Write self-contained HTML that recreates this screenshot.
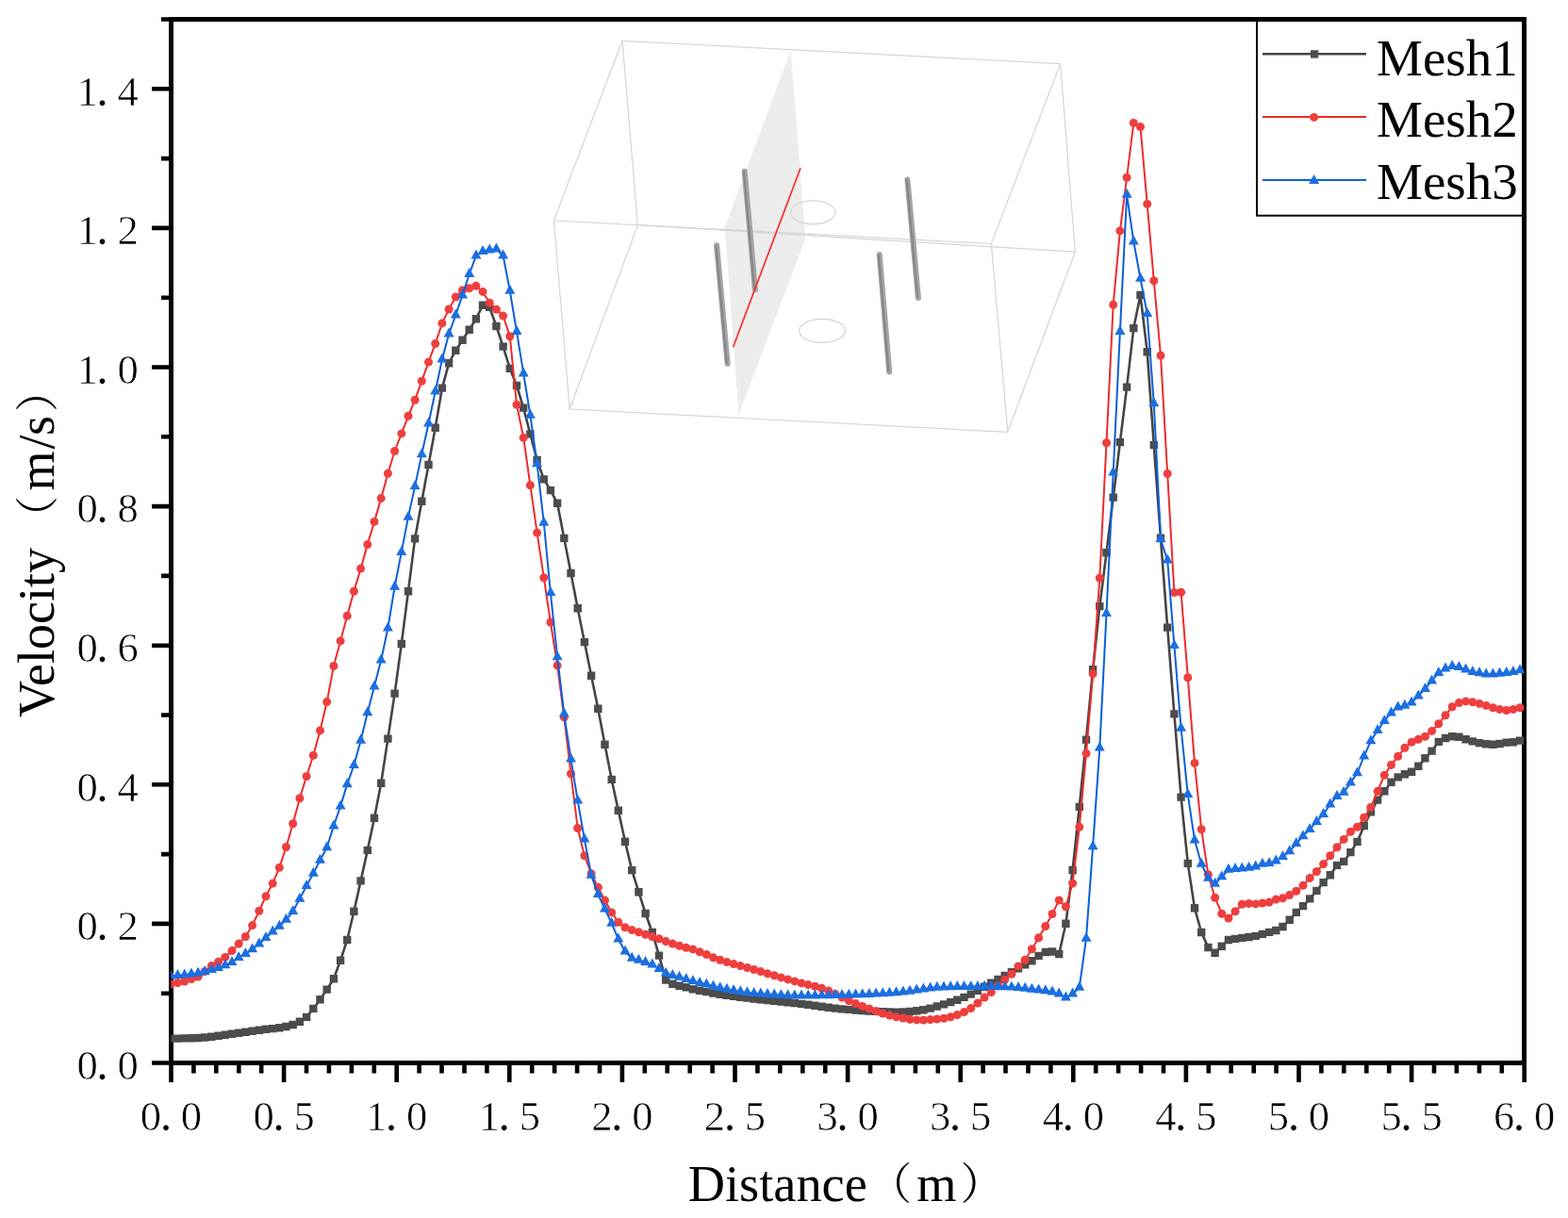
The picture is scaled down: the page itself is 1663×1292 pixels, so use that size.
<!DOCTYPE html>
<html><head><meta charset="utf-8"><title>Velocity vs Distance</title>
<style>
html,body{margin:0;padding:0;background:#fff;}
svg{display:block;}
.t{font-family:"Liberation Serif","Noto Serif CJK SC",serif;fill:#000;}
.n{stroke:#fff;stroke-width:0.6px;}
</style></head><body>
<svg width="1663" height="1292" viewBox="0 0 1663 1292">
<rect x="0" y="0" width="1663" height="1292" fill="#fff"/>

<g id="inset">
<polygon points="838.6,53.7 854.3,253.2 783.5,439.8 768.8,241" fill="#ececec"/>
<line x1="660" y1="43.3" x2="1124.6" y2="67.7" stroke="#d4d4d4" stroke-width="1.2"/>
<line x1="660" y1="43.3" x2="587.4" y2="234" stroke="#d4d4d4" stroke-width="1.2"/>
<line x1="1124.6" y1="67.7" x2="1051.3" y2="258.5" stroke="#d4d4d4" stroke-width="1.2"/>
<line x1="587.4" y1="234" x2="1051.3" y2="258.5" stroke="#d4d4d4" stroke-width="1.2"/>
<line x1="660" y1="43.3" x2="676.4" y2="238.6" stroke="#d4d4d4" stroke-width="1.2"/>
<line x1="1124.6" y1="67.7" x2="1140.3" y2="267.2" stroke="#d4d4d4" stroke-width="1.2"/>
<line x1="676.4" y1="238.6" x2="1140.3" y2="267.2" stroke="#d4d4d4" stroke-width="1.2"/>
<line x1="587.4" y1="234" x2="604.2" y2="434" stroke="#d4d4d4" stroke-width="1.2"/>
<line x1="1051.3" y1="258.5" x2="1068.8" y2="458.3" stroke="#d4d4d4" stroke-width="1.2"/>
<line x1="604.2" y1="434" x2="1068.8" y2="458.3" stroke="#d4d4d4" stroke-width="1.2"/>
<line x1="676.4" y1="238.6" x2="604.2" y2="434" stroke="#d4d4d4" stroke-width="1.2"/>
<line x1="1140.3" y1="267.2" x2="1068.8" y2="458.3" stroke="#d4d4d4" stroke-width="1.2"/>
<ellipse cx="862.3" cy="225.3" rx="23.7" ry="12.5" fill="none" stroke="#d4d4d4" stroke-width="1.2"/>
<ellipse cx="872" cy="350.9" rx="24.4" ry="12.5" fill="none" stroke="#d4d4d4" stroke-width="1.2"/>
<line x1="789.7" y1="181.7" x2="800.9" y2="307.3" stroke="#a4a4a4" stroke-width="6" stroke-linecap="round"/>
<line x1="788.9000000000001" y1="181.7" x2="800.1" y2="307.3" stroke="#868686" stroke-width="2.2"/>
<line x1="760.1" y1="260.2" x2="771.6" y2="385.8" stroke="#a4a4a4" stroke-width="6" stroke-linecap="round"/>
<line x1="759.3000000000001" y1="260.2" x2="770.8000000000001" y2="385.8" stroke="#868686" stroke-width="2.2"/>
<line x1="962.4" y1="190.4" x2="973.9" y2="316" stroke="#a4a4a4" stroke-width="6" stroke-linecap="round"/>
<line x1="961.6" y1="190.4" x2="973.1" y2="316" stroke="#868686" stroke-width="2.2"/>
<line x1="932.7" y1="270" x2="943.2" y2="394.5" stroke="#a4a4a4" stroke-width="6" stroke-linecap="round"/>
<line x1="931.9000000000001" y1="270" x2="942.4000000000001" y2="394.5" stroke="#868686" stroke-width="2.2"/>
<line x1="849" y1="178.2" x2="777.5" y2="368.3" stroke="#f23636" stroke-width="1.8"/>
</g>
<rect x="181.5" y="20.5" width="1435.0" height="1107.0" fill="none" stroke="#000" stroke-width="5"/>
<path d="M181.5,1127.5V1148M205.4,1127.5V1138.5M229.3,1127.5V1138.5M253.3,1127.5V1138.5M277.2,1127.5V1138.5M301.1,1127.5V1148M325.0,1127.5V1138.5M348.9,1127.5V1138.5M372.9,1127.5V1138.5M396.8,1127.5V1138.5M420.7,1127.5V1148M444.6,1127.5V1138.5M468.5,1127.5V1138.5M492.5,1127.5V1138.5M516.4,1127.5V1138.5M540.3,1127.5V1148M564.2,1127.5V1138.5M588.1,1127.5V1138.5M612.1,1127.5V1138.5M636.0,1127.5V1138.5M659.9,1127.5V1148M683.8,1127.5V1138.5M707.7,1127.5V1138.5M731.7,1127.5V1138.5M755.6,1127.5V1138.5M779.5,1127.5V1148M803.4,1127.5V1138.5M827.3,1127.5V1138.5M851.3,1127.5V1138.5M875.2,1127.5V1138.5M899.1,1127.5V1148M923.0,1127.5V1138.5M946.9,1127.5V1138.5M970.9,1127.5V1138.5M994.8,1127.5V1138.5M1018.7,1127.5V1148M1042.6,1127.5V1138.5M1066.5,1127.5V1138.5M1090.5,1127.5V1138.5M1114.4,1127.5V1138.5M1138.3,1127.5V1148M1162.2,1127.5V1138.5M1186.1,1127.5V1138.5M1210.1,1127.5V1138.5M1234.0,1127.5V1138.5M1257.9,1127.5V1148M1281.8,1127.5V1138.5M1305.7,1127.5V1138.5M1329.7,1127.5V1138.5M1353.6,1127.5V1138.5M1377.5,1127.5V1148M1401.4,1127.5V1138.5M1425.3,1127.5V1138.5M1449.3,1127.5V1138.5M1473.2,1127.5V1138.5M1497.1,1127.5V1148M1521.0,1127.5V1138.5M1544.9,1127.5V1138.5M1568.9,1127.5V1138.5M1592.8,1127.5V1138.5M1616.7,1127.5V1148M181.5,1127.5H161M181.5,1053.7H171M181.5,979.9H161M181.5,906.1H171M181.5,832.3H161M181.5,758.5H171M181.5,684.7H161M181.5,610.9H171M181.5,537.1H161M181.5,463.3H171M181.5,389.5H161M181.5,315.7H171M181.5,241.9H161M181.5,168.1H171M181.5,94.3H161M181.5,20.5H171" stroke="#000" stroke-width="4.6" fill="none"/>
<defs><clipPath id="pc"><rect x="181.5" y="20.5" width="1435" height="1107"/></clipPath></defs>
<g clip-path="url(#pc)"><g id="mesh1">
<polyline points="181.3,1101.6 188.5,1101.6 195.7,1101.4 202.9,1101.2 210.1,1101.0 217.2,1100.5 224.4,1099.8 231.6,1098.8 238.8,1097.7 246.0,1096.7 253.2,1095.7 260.4,1094.7 267.6,1093.7 274.8,1092.7 282.0,1091.8 289.2,1091.1 296.3,1090.2 303.5,1089.0 310.7,1087.0 317.9,1083.7 325.1,1078.9 332.3,1069.9 339.5,1060.2 346.7,1049.6 353.9,1038.2 361.1,1018.7 368.2,997.0 375.4,966.8 382.6,934.4 389.8,901.9 397.0,867.8 404.2,830.7 411.4,783.6 418.6,735.6 425.8,683.0 433.0,627.2 440.1,571.4 447.3,531.7 454.5,493.0 461.7,453.7 468.9,411.6 476.1,385.3 483.3,371.7 490.5,360.8 497.7,349.7 504.9,338.2 512.0,323.7 519.2,325.9 526.4,346.0 533.6,367.6 540.8,390.9 548.0,409.0 555.2,432.6 562.4,460.4 569.6,488.0 576.8,508.4 583.9,520.1 591.1,533.7 598.3,570.9 605.5,608.0 612.7,645.2 619.9,681.1 627.1,716.7 634.3,751.8 641.5,789.8 648.7,826.9 655.8,859.8 663.0,892.7 670.2,923.1 677.4,946.2 684.6,969.0 691.8,989.0 699.0,1013.6 706.2,1039.5 713.4,1043.7 720.5,1045.7 727.7,1047.3 734.9,1049.3 742.1,1050.7 749.3,1052.1 756.5,1053.5 763.7,1054.7 770.9,1055.8 778.1,1056.8 785.3,1057.7 792.5,1058.6 799.6,1059.5 806.8,1060.3 814.0,1061.1 821.2,1061.8 828.4,1062.6 835.6,1063.3 842.8,1064.0 850.0,1064.9 857.2,1065.8 864.4,1066.8 871.5,1067.8 878.7,1068.8 885.9,1069.6 893.1,1070.4 900.3,1070.9 907.5,1071.5 914.7,1072.0 921.9,1072.5 929.1,1072.9 936.2,1073.3 943.4,1073.5 950.6,1073.6 957.8,1073.5 965.0,1073.0 972.2,1072.2 979.4,1071.3 986.6,1069.6 993.8,1067.5 1001.0,1065.4 1008.2,1063.1 1015.3,1060.7 1022.5,1057.9 1029.7,1054.6 1036.9,1050.7 1044.1,1046.7 1051.3,1042.8 1058.5,1038.9 1065.7,1035.0 1072.9,1031.1 1080.0,1027.2 1087.2,1023.3 1094.4,1019.2 1101.6,1013.9 1108.8,1010.0 1116.0,1009.5 1123.2,1012.0 1130.4,979.7 1137.6,923.0 1144.8,855.9 1152.0,784.6 1159.1,710.3 1166.3,643.1 1173.5,586.2 1180.7,527.6 1187.9,469.1 1195.1,410.6 1202.3,348.1 1209.5,313.0 1216.7,373.2 1223.8,472.1 1231.0,570.8 1238.2,665.6 1245.4,757.4 1252.6,845.6 1259.8,915.9 1267.0,963.3 1274.2,989.0 1281.4,1005.0 1288.6,1010.7 1295.8,1003.8 1302.9,997.0 1310.1,995.9 1317.3,994.9 1324.5,994.0 1331.7,992.9 1338.9,990.9 1346.1,988.9 1353.3,987.0 1360.5,983.0 1367.7,975.8 1374.8,967.9 1382.0,961.1 1389.2,953.4 1396.4,944.9 1403.6,936.1 1410.8,928.2 1418.0,917.9 1425.2,913.9 1432.4,904.1 1439.5,892.9 1446.7,876.1 1453.9,861.3 1461.1,848.6 1468.3,839.2 1475.5,829.8 1482.7,824.4 1489.9,821.3 1497.1,818.8 1504.3,812.8 1511.5,804.3 1518.6,796.6 1525.8,786.9 1533.0,783.0 1540.2,781.3 1547.4,781.8 1554.6,784.2 1561.8,786.4 1569.0,788.1 1576.2,789.3 1583.4,789.8 1590.5,789.0 1597.7,787.6 1604.9,787.3 1612.1,785.6" fill="none" stroke="#444" stroke-width="2.6" stroke-linejoin="round"/>
<path fill="#4c4c4c" d="M177.1,1097.4h8.4v8.4h-8.4ZM184.3,1097.4h8.4v8.4h-8.4ZM191.5,1097.2h8.4v8.4h-8.4ZM198.7,1097.0h8.4v8.4h-8.4ZM205.9,1096.8h8.4v8.4h-8.4ZM213.1,1096.3h8.4v8.4h-8.4ZM220.2,1095.6h8.4v8.4h-8.4ZM227.4,1094.6h8.4v8.4h-8.4ZM234.6,1093.5h8.4v8.4h-8.4ZM241.8,1092.5h8.4v8.4h-8.4ZM249.0,1091.5h8.4v8.4h-8.4ZM256.2,1090.5h8.4v8.4h-8.4ZM263.4,1089.5h8.4v8.4h-8.4ZM270.6,1088.5h8.4v8.4h-8.4ZM277.8,1087.6h8.4v8.4h-8.4ZM285.0,1086.9h8.4v8.4h-8.4ZM292.1,1086.0h8.4v8.4h-8.4ZM299.3,1084.8h8.4v8.4h-8.4ZM306.5,1082.8h8.4v8.4h-8.4ZM313.7,1079.5h8.4v8.4h-8.4ZM320.9,1074.7h8.4v8.4h-8.4ZM328.1,1065.7h8.4v8.4h-8.4ZM335.3,1056.0h8.4v8.4h-8.4ZM342.5,1045.4h8.4v8.4h-8.4ZM349.7,1034.0h8.4v8.4h-8.4ZM356.9,1014.5h8.4v8.4h-8.4ZM364.0,992.8h8.4v8.4h-8.4ZM371.2,962.6h8.4v8.4h-8.4ZM378.4,930.2h8.4v8.4h-8.4ZM385.6,897.7h8.4v8.4h-8.4ZM392.8,863.6h8.4v8.4h-8.4ZM400.0,826.5h8.4v8.4h-8.4ZM407.2,779.4h8.4v8.4h-8.4ZM414.4,731.4h8.4v8.4h-8.4ZM421.6,678.8h8.4v8.4h-8.4ZM428.8,623.0h8.4v8.4h-8.4ZM435.9,567.2h8.4v8.4h-8.4ZM443.1,527.5h8.4v8.4h-8.4ZM450.3,488.8h8.4v8.4h-8.4ZM457.5,449.5h8.4v8.4h-8.4ZM464.7,407.4h8.4v8.4h-8.4ZM471.9,381.1h8.4v8.4h-8.4ZM479.1,367.5h8.4v8.4h-8.4ZM486.3,356.6h8.4v8.4h-8.4ZM493.5,345.5h8.4v8.4h-8.4ZM500.7,334.0h8.4v8.4h-8.4ZM507.8,319.5h8.4v8.4h-8.4ZM515.0,321.7h8.4v8.4h-8.4ZM522.2,341.8h8.4v8.4h-8.4ZM529.4,363.4h8.4v8.4h-8.4ZM536.6,386.7h8.4v8.4h-8.4ZM543.8,404.8h8.4v8.4h-8.4ZM551.0,428.4h8.4v8.4h-8.4ZM558.2,456.2h8.4v8.4h-8.4ZM565.4,483.8h8.4v8.4h-8.4ZM572.5,504.2h8.4v8.4h-8.4ZM579.7,515.9h8.4v8.4h-8.4ZM586.9,529.5h8.4v8.4h-8.4ZM594.1,566.7h8.4v8.4h-8.4ZM601.3,603.8h8.4v8.4h-8.4ZM608.5,641.0h8.4v8.4h-8.4ZM615.7,676.9h8.4v8.4h-8.4ZM622.9,712.5h8.4v8.4h-8.4ZM630.1,747.6h8.4v8.4h-8.4ZM637.3,785.6h8.4v8.4h-8.4ZM644.5,822.7h8.4v8.4h-8.4ZM651.6,855.6h8.4v8.4h-8.4ZM658.8,888.5h8.4v8.4h-8.4ZM666.0,918.9h8.4v8.4h-8.4ZM673.2,942.0h8.4v8.4h-8.4ZM680.4,964.8h8.4v8.4h-8.4ZM687.6,984.8h8.4v8.4h-8.4ZM694.8,1009.4h8.4v8.4h-8.4ZM702.0,1035.3h8.4v8.4h-8.4ZM709.2,1039.5h8.4v8.4h-8.4ZM716.3,1041.5h8.4v8.4h-8.4ZM723.5,1043.1h8.4v8.4h-8.4ZM730.7,1045.1h8.4v8.4h-8.4ZM737.9,1046.5h8.4v8.4h-8.4ZM745.1,1047.9h8.4v8.4h-8.4ZM752.3,1049.3h8.4v8.4h-8.4ZM759.5,1050.5h8.4v8.4h-8.4ZM766.7,1051.6h8.4v8.4h-8.4ZM773.9,1052.6h8.4v8.4h-8.4ZM781.1,1053.5h8.4v8.4h-8.4ZM788.2,1054.4h8.4v8.4h-8.4ZM795.4,1055.3h8.4v8.4h-8.4ZM802.6,1056.1h8.4v8.4h-8.4ZM809.8,1056.9h8.4v8.4h-8.4ZM817.0,1057.6h8.4v8.4h-8.4ZM824.2,1058.4h8.4v8.4h-8.4ZM831.4,1059.1h8.4v8.4h-8.4ZM838.6,1059.8h8.4v8.4h-8.4ZM845.8,1060.7h8.4v8.4h-8.4ZM853.0,1061.6h8.4v8.4h-8.4ZM860.2,1062.6h8.4v8.4h-8.4ZM867.3,1063.6h8.4v8.4h-8.4ZM874.5,1064.6h8.4v8.4h-8.4ZM881.7,1065.4h8.4v8.4h-8.4ZM888.9,1066.2h8.4v8.4h-8.4ZM896.1,1066.7h8.4v8.4h-8.4ZM903.3,1067.3h8.4v8.4h-8.4ZM910.5,1067.8h8.4v8.4h-8.4ZM917.7,1068.3h8.4v8.4h-8.4ZM924.9,1068.7h8.4v8.4h-8.4ZM932.0,1069.1h8.4v8.4h-8.4ZM939.2,1069.3h8.4v8.4h-8.4ZM946.4,1069.4h8.4v8.4h-8.4ZM953.6,1069.3h8.4v8.4h-8.4ZM960.8,1068.8h8.4v8.4h-8.4ZM968.0,1068.0h8.4v8.4h-8.4ZM975.2,1067.1h8.4v8.4h-8.4ZM982.4,1065.4h8.4v8.4h-8.4ZM989.6,1063.3h8.4v8.4h-8.4ZM996.8,1061.2h8.4v8.4h-8.4ZM1004.0,1058.9h8.4v8.4h-8.4ZM1011.1,1056.5h8.4v8.4h-8.4ZM1018.3,1053.7h8.4v8.4h-8.4ZM1025.5,1050.4h8.4v8.4h-8.4ZM1032.7,1046.5h8.4v8.4h-8.4ZM1039.9,1042.5h8.4v8.4h-8.4ZM1047.1,1038.6h8.4v8.4h-8.4ZM1054.3,1034.7h8.4v8.4h-8.4ZM1061.5,1030.8h8.4v8.4h-8.4ZM1068.7,1026.9h8.4v8.4h-8.4ZM1075.8,1023.0h8.4v8.4h-8.4ZM1083.0,1019.1h8.4v8.4h-8.4ZM1090.2,1015.0h8.4v8.4h-8.4ZM1097.4,1009.7h8.4v8.4h-8.4ZM1104.6,1005.8h8.4v8.4h-8.4ZM1111.8,1005.3h8.4v8.4h-8.4ZM1119.0,1007.8h8.4v8.4h-8.4ZM1126.2,975.5h8.4v8.4h-8.4ZM1133.4,918.8h8.4v8.4h-8.4ZM1140.6,851.7h8.4v8.4h-8.4ZM1147.8,780.4h8.4v8.4h-8.4ZM1154.9,706.1h8.4v8.4h-8.4ZM1162.1,638.9h8.4v8.4h-8.4ZM1169.3,582.0h8.4v8.4h-8.4ZM1176.5,523.4h8.4v8.4h-8.4ZM1183.7,464.9h8.4v8.4h-8.4ZM1190.9,406.4h8.4v8.4h-8.4ZM1198.1,343.9h8.4v8.4h-8.4ZM1205.3,308.8h8.4v8.4h-8.4ZM1212.5,369.0h8.4v8.4h-8.4ZM1219.6,467.9h8.4v8.4h-8.4ZM1226.8,566.6h8.4v8.4h-8.4ZM1234.0,661.4h8.4v8.4h-8.4ZM1241.2,753.2h8.4v8.4h-8.4ZM1248.4,841.4h8.4v8.4h-8.4ZM1255.6,911.7h8.4v8.4h-8.4ZM1262.8,959.1h8.4v8.4h-8.4ZM1270.0,984.8h8.4v8.4h-8.4ZM1277.2,1000.8h8.4v8.4h-8.4ZM1284.4,1006.5h8.4v8.4h-8.4ZM1291.5,999.6h8.4v8.4h-8.4ZM1298.7,992.8h8.4v8.4h-8.4ZM1305.9,991.7h8.4v8.4h-8.4ZM1313.1,990.7h8.4v8.4h-8.4ZM1320.3,989.8h8.4v8.4h-8.4ZM1327.5,988.7h8.4v8.4h-8.4ZM1334.7,986.7h8.4v8.4h-8.4ZM1341.9,984.7h8.4v8.4h-8.4ZM1349.1,982.8h8.4v8.4h-8.4ZM1356.3,978.8h8.4v8.4h-8.4ZM1363.5,971.6h8.4v8.4h-8.4ZM1370.6,963.7h8.4v8.4h-8.4ZM1377.8,956.9h8.4v8.4h-8.4ZM1385.0,949.2h8.4v8.4h-8.4ZM1392.2,940.7h8.4v8.4h-8.4ZM1399.4,931.9h8.4v8.4h-8.4ZM1406.6,924.0h8.4v8.4h-8.4ZM1413.8,913.7h8.4v8.4h-8.4ZM1421.0,909.7h8.4v8.4h-8.4ZM1428.2,899.9h8.4v8.4h-8.4ZM1435.3,888.7h8.4v8.4h-8.4ZM1442.5,871.9h8.4v8.4h-8.4ZM1449.7,857.1h8.4v8.4h-8.4ZM1456.9,844.4h8.4v8.4h-8.4ZM1464.1,835.0h8.4v8.4h-8.4ZM1471.3,825.6h8.4v8.4h-8.4ZM1478.5,820.2h8.4v8.4h-8.4ZM1485.7,817.1h8.4v8.4h-8.4ZM1492.9,814.6h8.4v8.4h-8.4ZM1500.1,808.6h8.4v8.4h-8.4ZM1507.2,800.1h8.4v8.4h-8.4ZM1514.4,792.4h8.4v8.4h-8.4ZM1521.6,782.7h8.4v8.4h-8.4ZM1528.8,778.8h8.4v8.4h-8.4ZM1536.0,777.1h8.4v8.4h-8.4ZM1543.2,777.6h8.4v8.4h-8.4ZM1550.4,780.0h8.4v8.4h-8.4ZM1557.6,782.2h8.4v8.4h-8.4ZM1564.8,783.9h8.4v8.4h-8.4ZM1572.0,785.1h8.4v8.4h-8.4ZM1579.2,785.6h8.4v8.4h-8.4ZM1586.3,784.8h8.4v8.4h-8.4ZM1593.5,783.4h8.4v8.4h-8.4ZM1600.7,783.1h8.4v8.4h-8.4ZM1607.9,781.4h8.4v8.4h-8.4Z"/>
</g>
<g id="mesh2">
<polyline points="181.3,1044.0 188.5,1042.5 195.7,1041.0 202.9,1038.5 210.1,1036.0 217.2,1030.5 224.4,1024.4 231.6,1020.3 238.8,1015.4 246.0,1008.6 253.2,1001.1 260.4,993.5 267.6,981.6 274.8,966.3 282.0,950.7 289.2,937.1 296.3,920.3 303.5,898.5 310.7,873.7 317.9,846.7 325.1,823.5 332.3,801.2 339.5,774.9 346.7,744.6 353.9,706.5 361.1,679.9 368.2,653.3 375.4,627.2 382.6,603.1 389.8,577.6 397.0,553.4 404.2,528.6 411.4,502.3 418.6,478.5 425.8,459.9 433.0,441.3 440.1,424.3 447.3,404.2 454.5,384.1 461.7,364.6 468.9,342.9 476.1,328.0 483.3,315.0 490.5,307.9 497.7,305.7 504.9,303.3 512.0,309.4 519.2,321.2 526.4,328.3 533.6,335.1 540.8,356.8 548.0,429.2 555.2,464.2 562.4,514.7 569.6,565.1 576.8,612.7 583.9,660.0 591.1,705.9 598.3,760.8 605.5,820.8 612.7,878.5 619.9,907.7 627.1,926.7 634.3,941.2 641.5,955.1 648.7,967.9 655.8,978.2 663.0,983.8 670.2,986.6 677.4,988.8 684.6,991.3 691.8,993.6 699.0,995.8 706.2,998.6 713.4,1001.1 720.5,1003.3 727.7,1005.3 734.9,1006.9 742.1,1009.7 749.3,1012.5 756.5,1015.8 763.7,1018.3 770.9,1020.6 778.1,1022.6 785.3,1024.6 792.5,1026.5 799.6,1028.5 806.8,1030.6 814.0,1032.7 821.2,1034.8 828.4,1036.9 835.6,1038.9 842.8,1040.9 850.0,1042.9 857.2,1044.6 864.4,1046.3 871.5,1048.3 878.7,1051.0 885.9,1054.4 893.1,1058.0 900.3,1061.5 907.5,1064.6 914.7,1067.4 921.9,1070.1 929.1,1072.7 936.2,1075.1 943.4,1077.1 950.6,1078.7 957.8,1080.0 965.0,1081.2 972.2,1081.9 979.4,1082.0 986.6,1081.6 993.8,1081.0 1001.0,1080.2 1008.2,1078.8 1015.3,1076.5 1022.5,1073.6 1029.7,1069.6 1036.9,1064.0 1044.1,1058.0 1051.3,1052.5 1058.5,1046.0 1065.7,1039.3 1072.9,1033.3 1080.0,1024.9 1087.2,1018.3 1094.4,1006.8 1101.6,994.8 1108.8,982.5 1116.0,969.5 1123.2,954.9 1130.4,961.7 1137.6,937.0 1144.8,877.2 1152.0,799.2 1159.1,714.7 1166.3,613.2 1173.5,469.8 1180.7,323.3 1187.9,244.9 1195.1,188.3 1202.3,130.5 1209.5,134.6 1216.7,216.4 1223.8,297.8 1231.0,377.1 1238.2,502.5 1245.4,628.5 1252.6,628.3 1259.8,718.7 1267.0,809.4 1274.2,879.7 1281.4,927.7 1288.6,952.2 1295.8,969.2 1302.9,974.1 1310.1,966.7 1317.3,959.3 1324.5,958.4 1331.7,958.9 1338.9,958.0 1346.1,957.1 1353.3,954.1 1360.5,952.8 1367.7,949.5 1374.8,945.3 1382.0,939.3 1389.2,931.4 1396.4,924.5 1403.6,916.6 1410.8,907.8 1418.0,898.7 1425.2,890.4 1432.4,882.2 1439.5,877.3 1446.7,867.3 1453.9,856.2 1461.1,839.2 1468.3,822.2 1475.5,811.4 1482.7,802.3 1489.9,793.2 1497.1,787.3 1504.3,784.2 1511.5,781.3 1518.6,775.4 1525.8,767.7 1533.0,758.7 1540.2,749.8 1547.4,745.6 1554.6,743.9 1561.8,744.7 1569.0,746.4 1576.2,748.4 1583.4,750.7 1590.5,752.4 1597.7,753.6 1604.9,752.4 1612.1,750.7" fill="none" stroke="#ee2b2b" stroke-width="2" stroke-linejoin="round"/>
<g fill="#ef3e3e"><circle cx="181.3" cy="1044.0" r="4.5"/><circle cx="188.5" cy="1042.5" r="4.5"/><circle cx="195.7" cy="1041.0" r="4.5"/><circle cx="202.9" cy="1038.5" r="4.5"/><circle cx="210.1" cy="1036.0" r="4.5"/><circle cx="217.2" cy="1030.5" r="4.5"/><circle cx="224.4" cy="1024.4" r="4.5"/><circle cx="231.6" cy="1020.3" r="4.5"/><circle cx="238.8" cy="1015.4" r="4.5"/><circle cx="246.0" cy="1008.6" r="4.5"/><circle cx="253.2" cy="1001.1" r="4.5"/><circle cx="260.4" cy="993.5" r="4.5"/><circle cx="267.6" cy="981.6" r="4.5"/><circle cx="274.8" cy="966.3" r="4.5"/><circle cx="282.0" cy="950.7" r="4.5"/><circle cx="289.2" cy="937.1" r="4.5"/><circle cx="296.3" cy="920.3" r="4.5"/><circle cx="303.5" cy="898.5" r="4.5"/><circle cx="310.7" cy="873.7" r="4.5"/><circle cx="317.9" cy="846.7" r="4.5"/><circle cx="325.1" cy="823.5" r="4.5"/><circle cx="332.3" cy="801.2" r="4.5"/><circle cx="339.5" cy="774.9" r="4.5"/><circle cx="346.7" cy="744.6" r="4.5"/><circle cx="353.9" cy="706.5" r="4.5"/><circle cx="361.1" cy="679.9" r="4.5"/><circle cx="368.2" cy="653.3" r="4.5"/><circle cx="375.4" cy="627.2" r="4.5"/><circle cx="382.6" cy="603.1" r="4.5"/><circle cx="389.8" cy="577.6" r="4.5"/><circle cx="397.0" cy="553.4" r="4.5"/><circle cx="404.2" cy="528.6" r="4.5"/><circle cx="411.4" cy="502.3" r="4.5"/><circle cx="418.6" cy="478.5" r="4.5"/><circle cx="425.8" cy="459.9" r="4.5"/><circle cx="433.0" cy="441.3" r="4.5"/><circle cx="440.1" cy="424.3" r="4.5"/><circle cx="447.3" cy="404.2" r="4.5"/><circle cx="454.5" cy="384.1" r="4.5"/><circle cx="461.7" cy="364.6" r="4.5"/><circle cx="468.9" cy="342.9" r="4.5"/><circle cx="476.1" cy="328.0" r="4.5"/><circle cx="483.3" cy="315.0" r="4.5"/><circle cx="490.5" cy="307.9" r="4.5"/><circle cx="497.7" cy="305.7" r="4.5"/><circle cx="504.9" cy="303.3" r="4.5"/><circle cx="512.0" cy="309.4" r="4.5"/><circle cx="519.2" cy="321.2" r="4.5"/><circle cx="526.4" cy="328.3" r="4.5"/><circle cx="533.6" cy="335.1" r="4.5"/><circle cx="540.8" cy="356.8" r="4.5"/><circle cx="548.0" cy="429.2" r="4.5"/><circle cx="555.2" cy="464.2" r="4.5"/><circle cx="562.4" cy="514.7" r="4.5"/><circle cx="569.6" cy="565.1" r="4.5"/><circle cx="576.8" cy="612.7" r="4.5"/><circle cx="583.9" cy="660.0" r="4.5"/><circle cx="591.1" cy="705.9" r="4.5"/><circle cx="598.3" cy="760.8" r="4.5"/><circle cx="605.5" cy="820.8" r="4.5"/><circle cx="612.7" cy="878.5" r="4.5"/><circle cx="619.9" cy="907.7" r="4.5"/><circle cx="627.1" cy="926.7" r="4.5"/><circle cx="634.3" cy="941.2" r="4.5"/><circle cx="641.5" cy="955.1" r="4.5"/><circle cx="648.7" cy="967.9" r="4.5"/><circle cx="655.8" cy="978.2" r="4.5"/><circle cx="663.0" cy="983.8" r="4.5"/><circle cx="670.2" cy="986.6" r="4.5"/><circle cx="677.4" cy="988.8" r="4.5"/><circle cx="684.6" cy="991.3" r="4.5"/><circle cx="691.8" cy="993.6" r="4.5"/><circle cx="699.0" cy="995.8" r="4.5"/><circle cx="706.2" cy="998.6" r="4.5"/><circle cx="713.4" cy="1001.1" r="4.5"/><circle cx="720.5" cy="1003.3" r="4.5"/><circle cx="727.7" cy="1005.3" r="4.5"/><circle cx="734.9" cy="1006.9" r="4.5"/><circle cx="742.1" cy="1009.7" r="4.5"/><circle cx="749.3" cy="1012.5" r="4.5"/><circle cx="756.5" cy="1015.8" r="4.5"/><circle cx="763.7" cy="1018.3" r="4.5"/><circle cx="770.9" cy="1020.6" r="4.5"/><circle cx="778.1" cy="1022.6" r="4.5"/><circle cx="785.3" cy="1024.6" r="4.5"/><circle cx="792.5" cy="1026.5" r="4.5"/><circle cx="799.6" cy="1028.5" r="4.5"/><circle cx="806.8" cy="1030.6" r="4.5"/><circle cx="814.0" cy="1032.7" r="4.5"/><circle cx="821.2" cy="1034.8" r="4.5"/><circle cx="828.4" cy="1036.9" r="4.5"/><circle cx="835.6" cy="1038.9" r="4.5"/><circle cx="842.8" cy="1040.9" r="4.5"/><circle cx="850.0" cy="1042.9" r="4.5"/><circle cx="857.2" cy="1044.6" r="4.5"/><circle cx="864.4" cy="1046.3" r="4.5"/><circle cx="871.5" cy="1048.3" r="4.5"/><circle cx="878.7" cy="1051.0" r="4.5"/><circle cx="885.9" cy="1054.4" r="4.5"/><circle cx="893.1" cy="1058.0" r="4.5"/><circle cx="900.3" cy="1061.5" r="4.5"/><circle cx="907.5" cy="1064.6" r="4.5"/><circle cx="914.7" cy="1067.4" r="4.5"/><circle cx="921.9" cy="1070.1" r="4.5"/><circle cx="929.1" cy="1072.7" r="4.5"/><circle cx="936.2" cy="1075.1" r="4.5"/><circle cx="943.4" cy="1077.1" r="4.5"/><circle cx="950.6" cy="1078.7" r="4.5"/><circle cx="957.8" cy="1080.0" r="4.5"/><circle cx="965.0" cy="1081.2" r="4.5"/><circle cx="972.2" cy="1081.9" r="4.5"/><circle cx="979.4" cy="1082.0" r="4.5"/><circle cx="986.6" cy="1081.6" r="4.5"/><circle cx="993.8" cy="1081.0" r="4.5"/><circle cx="1001.0" cy="1080.2" r="4.5"/><circle cx="1008.2" cy="1078.8" r="4.5"/><circle cx="1015.3" cy="1076.5" r="4.5"/><circle cx="1022.5" cy="1073.6" r="4.5"/><circle cx="1029.7" cy="1069.6" r="4.5"/><circle cx="1036.9" cy="1064.0" r="4.5"/><circle cx="1044.1" cy="1058.0" r="4.5"/><circle cx="1051.3" cy="1052.5" r="4.5"/><circle cx="1058.5" cy="1046.0" r="4.5"/><circle cx="1065.7" cy="1039.3" r="4.5"/><circle cx="1072.9" cy="1033.3" r="4.5"/><circle cx="1080.0" cy="1024.9" r="4.5"/><circle cx="1087.2" cy="1018.3" r="4.5"/><circle cx="1094.4" cy="1006.8" r="4.5"/><circle cx="1101.6" cy="994.8" r="4.5"/><circle cx="1108.8" cy="982.5" r="4.5"/><circle cx="1116.0" cy="969.5" r="4.5"/><circle cx="1123.2" cy="954.9" r="4.5"/><circle cx="1130.4" cy="961.7" r="4.5"/><circle cx="1137.6" cy="937.0" r="4.5"/><circle cx="1144.8" cy="877.2" r="4.5"/><circle cx="1152.0" cy="799.2" r="4.5"/><circle cx="1159.1" cy="714.7" r="4.5"/><circle cx="1166.3" cy="613.2" r="4.5"/><circle cx="1173.5" cy="469.8" r="4.5"/><circle cx="1180.7" cy="323.3" r="4.5"/><circle cx="1187.9" cy="244.9" r="4.5"/><circle cx="1195.1" cy="188.3" r="4.5"/><circle cx="1202.3" cy="130.5" r="4.5"/><circle cx="1209.5" cy="134.6" r="4.5"/><circle cx="1216.7" cy="216.4" r="4.5"/><circle cx="1223.8" cy="297.8" r="4.5"/><circle cx="1231.0" cy="377.1" r="4.5"/><circle cx="1238.2" cy="502.5" r="4.5"/><circle cx="1245.4" cy="628.5" r="4.5"/><circle cx="1252.6" cy="628.3" r="4.5"/><circle cx="1259.8" cy="718.7" r="4.5"/><circle cx="1267.0" cy="809.4" r="4.5"/><circle cx="1274.2" cy="879.7" r="4.5"/><circle cx="1281.4" cy="927.7" r="4.5"/><circle cx="1288.6" cy="952.2" r="4.5"/><circle cx="1295.8" cy="969.2" r="4.5"/><circle cx="1302.9" cy="974.1" r="4.5"/><circle cx="1310.1" cy="966.7" r="4.5"/><circle cx="1317.3" cy="959.3" r="4.5"/><circle cx="1324.5" cy="958.4" r="4.5"/><circle cx="1331.7" cy="958.9" r="4.5"/><circle cx="1338.9" cy="958.0" r="4.5"/><circle cx="1346.1" cy="957.1" r="4.5"/><circle cx="1353.3" cy="954.1" r="4.5"/><circle cx="1360.5" cy="952.8" r="4.5"/><circle cx="1367.7" cy="949.5" r="4.5"/><circle cx="1374.8" cy="945.3" r="4.5"/><circle cx="1382.0" cy="939.3" r="4.5"/><circle cx="1389.2" cy="931.4" r="4.5"/><circle cx="1396.4" cy="924.5" r="4.5"/><circle cx="1403.6" cy="916.6" r="4.5"/><circle cx="1410.8" cy="907.8" r="4.5"/><circle cx="1418.0" cy="898.7" r="4.5"/><circle cx="1425.2" cy="890.4" r="4.5"/><circle cx="1432.4" cy="882.2" r="4.5"/><circle cx="1439.5" cy="877.3" r="4.5"/><circle cx="1446.7" cy="867.3" r="4.5"/><circle cx="1453.9" cy="856.2" r="4.5"/><circle cx="1461.1" cy="839.2" r="4.5"/><circle cx="1468.3" cy="822.2" r="4.5"/><circle cx="1475.5" cy="811.4" r="4.5"/><circle cx="1482.7" cy="802.3" r="4.5"/><circle cx="1489.9" cy="793.2" r="4.5"/><circle cx="1497.1" cy="787.3" r="4.5"/><circle cx="1504.3" cy="784.2" r="4.5"/><circle cx="1511.5" cy="781.3" r="4.5"/><circle cx="1518.6" cy="775.4" r="4.5"/><circle cx="1525.8" cy="767.7" r="4.5"/><circle cx="1533.0" cy="758.7" r="4.5"/><circle cx="1540.2" cy="749.8" r="4.5"/><circle cx="1547.4" cy="745.6" r="4.5"/><circle cx="1554.6" cy="743.9" r="4.5"/><circle cx="1561.8" cy="744.7" r="4.5"/><circle cx="1569.0" cy="746.4" r="4.5"/><circle cx="1576.2" cy="748.4" r="4.5"/><circle cx="1583.4" cy="750.7" r="4.5"/><circle cx="1590.5" cy="752.4" r="4.5"/><circle cx="1597.7" cy="753.6" r="4.5"/><circle cx="1604.9" cy="752.4" r="4.5"/><circle cx="1612.1" cy="750.7" r="4.5"/></g>
</g>
<g id="mesh3">
<polyline points="181.3,1035.2 188.5,1034.7 195.7,1034.2 202.9,1033.2 210.1,1032.2 217.2,1030.7 224.4,1028.7 231.6,1026.7 238.8,1024.0 246.0,1020.7 253.2,1015.8 260.4,1011.8 267.6,1006.9 274.8,1001.2 282.0,994.7 289.2,988.2 296.3,982.5 303.5,975.5 310.7,966.8 317.9,953.4 325.1,939.8 332.3,926.4 339.5,912.5 346.7,899.0 353.9,876.1 361.1,855.1 368.2,831.9 375.4,811.7 382.6,785.4 389.8,756.0 397.0,728.1 404.2,700.2 411.4,666.2 418.6,622.5 425.8,585.6 433.0,548.4 440.1,515.9 447.3,481.9 454.5,449.3 461.7,415.3 468.9,381.2 476.1,354.3 483.3,334.2 490.5,313.1 497.7,290.8 504.9,271.3 512.0,266.7 519.2,265.1 526.4,264.2 533.6,271.3 540.8,308.5 548.0,351.8 555.2,396.1 562.4,440.5 569.6,491.9 576.8,554.5 583.9,628.8 591.1,696.9 598.3,757.3 605.5,805.3 612.7,849.3 619.9,890.3 627.1,928.4 634.3,948.8 641.5,964.1 648.7,979.4 655.8,996.2 663.0,1009.2 670.2,1016.5 677.4,1018.4 684.6,1020.7 691.8,1023.2 699.0,1027.6 706.2,1032.4 713.4,1034.6 720.5,1036.5 727.7,1038.8 734.9,1040.7 742.1,1042.7 749.3,1044.3 756.5,1046.3 763.7,1047.9 770.9,1049.4 778.1,1050.8 785.3,1052.0 792.5,1053.0 799.6,1053.7 806.8,1054.3 814.0,1054.8 821.2,1055.3 828.4,1055.7 835.6,1056.0 842.8,1056.2 850.0,1056.2 857.2,1056.2 864.4,1056.1 871.5,1056.0 878.7,1055.9 885.9,1055.7 893.1,1055.6 900.3,1055.4 907.5,1055.2 914.7,1054.9 921.9,1054.6 929.1,1054.2 936.2,1053.8 943.4,1053.4 950.6,1052.9 957.8,1052.3 965.0,1051.3 972.2,1050.2 979.4,1049.1 986.6,1048.1 993.8,1047.4 1001.0,1047.1 1008.2,1046.9 1015.3,1046.8 1022.5,1046.7 1029.7,1046.6 1036.9,1046.5 1044.1,1046.5 1051.3,1046.5 1058.5,1046.7 1065.7,1046.9 1072.9,1047.2 1080.0,1047.8 1087.2,1048.5 1094.4,1049.3 1101.6,1050.1 1108.8,1050.9 1116.0,1052.1 1123.2,1054.3 1130.4,1058.3 1137.6,1054.3 1144.8,1047.5 1152.0,995.4 1159.1,897.9 1166.3,793.3 1173.5,650.8 1180.7,501.2 1187.9,351.6 1195.1,206.4 1202.3,256.3 1209.5,295.4 1216.7,332.8 1223.8,428.0 1231.0,572.0 1238.2,594.2 1245.4,684.7 1252.6,772.5 1259.8,842.8 1267.0,891.1 1274.2,916.5 1281.4,931.5 1288.6,937.5 1295.8,930.0 1302.9,922.5 1310.1,921.7 1317.3,921.1 1324.5,920.4 1331.7,919.1 1338.9,916.5 1346.1,915.8 1353.3,913.2 1360.5,908.6 1367.7,903.0 1374.8,894.8 1382.0,886.9 1389.2,879.6 1396.4,871.7 1403.6,863.6 1410.8,853.2 1418.0,844.7 1425.2,840.4 1432.4,830.2 1439.5,820.0 1446.7,802.1 1453.9,785.9 1461.1,774.8 1468.3,764.6 1475.5,756.1 1482.7,750.2 1489.9,748.5 1497.1,745.1 1504.3,738.2 1511.5,730.6 1518.6,722.1 1525.8,713.6 1533.0,709.3 1540.2,706.7 1547.4,707.6 1554.6,710.1 1561.8,712.7 1569.0,713.9 1576.2,715.3 1583.4,715.3 1590.5,714.4 1597.7,713.6 1604.9,712.7 1612.1,711.0" fill="none" stroke="#0b5fd9" stroke-width="2" stroke-linejoin="round"/>
<path fill="#1c6fe0" d="M175.8,1038.5L181.3,1028.5L186.8,1038.5ZM183.0,1038.0L188.5,1028.0L194.0,1038.0ZM190.2,1037.5L195.7,1027.5L201.2,1037.5ZM197.4,1036.5L202.9,1026.5L208.4,1036.5ZM204.6,1035.5L210.1,1025.5L215.6,1035.5ZM211.8,1034.0L217.2,1024.0L222.8,1034.0ZM218.9,1032.0L224.4,1022.0L229.9,1032.0ZM226.1,1030.0L231.6,1020.0L237.1,1030.0ZM233.3,1027.3L238.8,1017.3L244.3,1027.3ZM240.5,1024.0L246.0,1014.0L251.5,1024.0ZM247.7,1019.1L253.2,1009.1L258.7,1019.1ZM254.9,1015.1L260.4,1005.1L265.9,1015.1ZM262.1,1010.2L267.6,1000.2L273.1,1010.2ZM269.3,1004.5L274.8,994.5L280.3,1004.5ZM276.5,998.0L282.0,988.0L287.5,998.0ZM283.7,991.5L289.2,981.5L294.7,991.5ZM290.8,985.8L296.3,975.8L301.8,985.8ZM298.0,978.8L303.5,968.8L309.0,978.8ZM305.2,970.1L310.7,960.1L316.2,970.1ZM312.4,956.7L317.9,946.7L323.4,956.7ZM319.6,943.1L325.1,933.1L330.6,943.1ZM326.8,929.7L332.3,919.7L337.8,929.7ZM334.0,915.8L339.5,905.8L345.0,915.8ZM341.2,902.3L346.7,892.3L352.2,902.3ZM348.4,879.4L353.9,869.4L359.4,879.4ZM355.6,858.4L361.1,848.4L366.6,858.4ZM362.7,835.2L368.2,825.2L373.7,835.2ZM369.9,815.0L375.4,805.0L380.9,815.0ZM377.1,788.7L382.6,778.7L388.1,788.7ZM384.3,759.3L389.8,749.3L395.3,759.3ZM391.5,731.4L397.0,721.4L402.5,731.4ZM398.7,703.5L404.2,693.5L409.7,703.5ZM405.9,669.5L411.4,659.5L416.9,669.5ZM413.1,625.8L418.6,615.8L424.1,625.8ZM420.3,588.9L425.8,578.9L431.3,588.9ZM427.5,551.7L433.0,541.7L438.5,551.7ZM434.6,519.2L440.1,509.2L445.6,519.2ZM441.8,485.2L447.3,475.2L452.8,485.2ZM449.0,452.6L454.5,442.6L460.0,452.6ZM456.2,418.6L461.7,408.6L467.2,418.6ZM463.4,384.5L468.9,374.5L474.4,384.5ZM470.6,357.6L476.1,347.6L481.6,357.6ZM477.8,337.5L483.3,327.5L488.8,337.5ZM485.0,316.4L490.5,306.4L496.0,316.4ZM492.2,294.1L497.7,284.1L503.2,294.1ZM499.4,274.6L504.9,264.6L510.4,274.6ZM506.5,270.0L512.0,260.0L517.5,270.0ZM513.7,268.4L519.2,258.4L524.7,268.4ZM520.9,267.5L526.4,257.5L531.9,267.5ZM528.1,274.6L533.6,264.6L539.1,274.6ZM535.3,311.8L540.8,301.8L546.3,311.8ZM542.5,355.1L548.0,345.1L553.5,355.1ZM549.7,399.4L555.2,389.4L560.7,399.4ZM556.9,443.8L562.4,433.8L567.9,443.8ZM564.1,495.2L569.6,485.2L575.1,495.2ZM571.2,557.8L576.8,547.8L582.2,557.8ZM578.4,632.1L583.9,622.1L589.4,632.1ZM585.6,700.2L591.1,690.2L596.6,700.2ZM592.8,760.6L598.3,750.6L603.8,760.6ZM600.0,808.6L605.5,798.6L611.0,808.6ZM607.2,852.6L612.7,842.6L618.2,852.6ZM614.4,893.6L619.9,883.6L625.4,893.6ZM621.6,931.7L627.1,921.7L632.6,931.7ZM628.8,952.1L634.3,942.1L639.8,952.1ZM636.0,967.4L641.5,957.4L647.0,967.4ZM643.2,982.7L648.7,972.7L654.2,982.7ZM650.3,999.5L655.8,989.5L661.3,999.5ZM657.5,1012.5L663.0,1002.5L668.5,1012.5ZM664.7,1019.8L670.2,1009.8L675.7,1019.8ZM671.9,1021.7L677.4,1011.7L682.9,1021.7ZM679.1,1024.0L684.6,1014.0L690.1,1024.0ZM686.3,1026.5L691.8,1016.5L697.3,1026.5ZM693.5,1030.9L699.0,1020.9L704.5,1030.9ZM700.7,1035.7L706.2,1025.7L711.7,1035.7ZM707.9,1037.9L713.4,1027.9L718.9,1037.9ZM715.0,1039.8L720.5,1029.8L726.0,1039.8ZM722.2,1042.1L727.7,1032.1L733.2,1042.1ZM729.4,1044.0L734.9,1034.0L740.4,1044.0ZM736.6,1046.0L742.1,1036.0L747.6,1046.0ZM743.8,1047.6L749.3,1037.6L754.8,1047.6ZM751.0,1049.6L756.5,1039.6L762.0,1049.6ZM758.2,1051.2L763.7,1041.2L769.2,1051.2ZM765.4,1052.7L770.9,1042.7L776.4,1052.7ZM772.6,1054.1L778.1,1044.1L783.6,1054.1ZM779.8,1055.3L785.3,1045.3L790.8,1055.3ZM787.0,1056.3L792.5,1046.3L798.0,1056.3ZM794.1,1057.0L799.6,1047.0L805.1,1057.0ZM801.3,1057.6L806.8,1047.6L812.3,1057.6ZM808.5,1058.1L814.0,1048.1L819.5,1058.1ZM815.7,1058.6L821.2,1048.6L826.7,1058.6ZM822.9,1059.0L828.4,1049.0L833.9,1059.0ZM830.1,1059.3L835.6,1049.3L841.1,1059.3ZM837.3,1059.5L842.8,1049.5L848.3,1059.5ZM844.5,1059.5L850.0,1049.5L855.5,1059.5ZM851.7,1059.5L857.2,1049.5L862.7,1059.5ZM858.9,1059.4L864.4,1049.4L869.9,1059.4ZM866.0,1059.3L871.5,1049.3L877.0,1059.3ZM873.2,1059.2L878.7,1049.2L884.2,1059.2ZM880.4,1059.1L885.9,1049.1L891.4,1059.1ZM887.6,1058.9L893.1,1048.9L898.6,1058.9ZM894.8,1058.7L900.3,1048.7L905.8,1058.7ZM902.0,1058.5L907.5,1048.5L913.0,1058.5ZM909.2,1058.2L914.7,1048.2L920.2,1058.2ZM916.4,1057.9L921.9,1047.9L927.4,1057.9ZM923.6,1057.6L929.1,1047.6L934.6,1057.6ZM930.8,1057.2L936.2,1047.2L941.8,1057.2ZM937.9,1056.7L943.4,1046.7L948.9,1056.7ZM945.1,1056.2L950.6,1046.2L956.1,1056.2ZM952.3,1055.6L957.8,1045.6L963.3,1055.6ZM959.5,1054.7L965.0,1044.7L970.5,1054.7ZM966.7,1053.6L972.2,1043.6L977.7,1053.6ZM973.9,1052.4L979.4,1042.4L984.9,1052.4ZM981.1,1051.5L986.6,1041.5L992.1,1051.5ZM988.3,1050.7L993.8,1040.7L999.3,1050.7ZM995.5,1050.4L1001.0,1040.4L1006.5,1050.4ZM1002.7,1050.3L1008.2,1040.3L1013.7,1050.3ZM1009.8,1050.1L1015.3,1040.1L1020.8,1050.1ZM1017.0,1050.0L1022.5,1040.0L1028.0,1050.0ZM1024.2,1049.9L1029.7,1039.9L1035.2,1049.9ZM1031.4,1049.9L1036.9,1039.9L1042.4,1049.9ZM1038.6,1049.8L1044.1,1039.8L1049.6,1049.8ZM1045.8,1049.9L1051.3,1039.9L1056.8,1049.9ZM1053.0,1050.0L1058.5,1040.0L1064.0,1050.0ZM1060.2,1050.3L1065.7,1040.3L1071.2,1050.3ZM1067.4,1050.6L1072.9,1040.6L1078.4,1050.6ZM1074.5,1051.1L1080.0,1041.1L1085.5,1051.1ZM1081.7,1051.8L1087.2,1041.8L1092.7,1051.8ZM1088.9,1052.7L1094.4,1042.7L1099.9,1052.7ZM1096.1,1053.4L1101.6,1043.4L1107.1,1053.4ZM1103.3,1054.3L1108.8,1044.3L1114.3,1054.3ZM1110.5,1055.4L1116.0,1045.4L1121.5,1055.4ZM1117.7,1057.6L1123.2,1047.6L1128.7,1057.6ZM1124.9,1061.6L1130.4,1051.6L1135.9,1061.6ZM1132.1,1057.6L1137.6,1047.6L1143.1,1057.6ZM1139.3,1050.8L1144.8,1040.8L1150.3,1050.8ZM1146.5,998.7L1152.0,988.7L1157.5,998.7ZM1153.6,901.2L1159.1,891.2L1164.6,901.2ZM1160.8,796.6L1166.3,786.6L1171.8,796.6ZM1168.0,654.1L1173.5,644.1L1179.0,654.1ZM1175.2,504.5L1180.7,494.5L1186.2,504.5ZM1182.4,354.9L1187.9,344.9L1193.4,354.9ZM1189.6,209.7L1195.1,199.7L1200.6,209.7ZM1196.8,259.6L1202.3,249.6L1207.8,259.6ZM1204.0,298.7L1209.5,288.7L1215.0,298.7ZM1211.2,336.1L1216.7,326.1L1222.2,336.1ZM1218.3,431.3L1223.8,421.3L1229.3,431.3ZM1225.5,575.3L1231.0,565.3L1236.5,575.3ZM1232.7,597.5L1238.2,587.5L1243.7,597.5ZM1239.9,688.0L1245.4,678.0L1250.9,688.0ZM1247.1,775.8L1252.6,765.8L1258.1,775.8ZM1254.3,846.1L1259.8,836.1L1265.3,846.1ZM1261.5,894.4L1267.0,884.4L1272.5,894.4ZM1268.7,919.8L1274.2,909.8L1279.7,919.8ZM1275.9,934.8L1281.4,924.8L1286.9,934.8ZM1283.1,940.8L1288.6,930.8L1294.1,940.8ZM1290.2,933.3L1295.8,923.3L1301.2,933.3ZM1297.4,925.8L1302.9,915.8L1308.4,925.8ZM1304.6,925.0L1310.1,915.0L1315.6,925.0ZM1311.8,924.4L1317.3,914.4L1322.8,924.4ZM1319.0,923.7L1324.5,913.7L1330.0,923.7ZM1326.2,922.4L1331.7,912.4L1337.2,922.4ZM1333.4,919.8L1338.9,909.8L1344.4,919.8ZM1340.6,919.1L1346.1,909.1L1351.6,919.1ZM1347.8,916.5L1353.3,906.5L1358.8,916.5ZM1355.0,911.9L1360.5,901.9L1366.0,911.9ZM1362.2,906.3L1367.7,896.3L1373.2,906.3ZM1369.3,898.1L1374.8,888.1L1380.3,898.1ZM1376.5,890.2L1382.0,880.2L1387.5,890.2ZM1383.7,882.9L1389.2,872.9L1394.7,882.9ZM1390.9,875.0L1396.4,865.0L1401.9,875.0ZM1398.1,866.9L1403.6,856.9L1409.1,866.9ZM1405.3,856.5L1410.8,846.5L1416.3,856.5ZM1412.5,848.0L1418.0,838.0L1423.5,848.0ZM1419.7,843.7L1425.2,833.7L1430.7,843.7ZM1426.9,833.5L1432.4,823.5L1437.9,833.5ZM1434.0,823.3L1439.5,813.3L1445.0,823.3ZM1441.2,805.4L1446.7,795.4L1452.2,805.4ZM1448.4,789.2L1453.9,779.2L1459.4,789.2ZM1455.6,778.1L1461.1,768.1L1466.6,778.1ZM1462.8,767.9L1468.3,757.9L1473.8,767.9ZM1470.0,759.4L1475.5,749.4L1481.0,759.4ZM1477.2,753.5L1482.7,743.5L1488.2,753.5ZM1484.4,751.8L1489.9,741.8L1495.4,751.8ZM1491.6,748.4L1497.1,738.4L1502.6,748.4ZM1498.8,741.5L1504.3,731.5L1509.8,741.5ZM1506.0,733.9L1511.5,723.9L1517.0,733.9ZM1513.1,725.4L1518.6,715.4L1524.1,725.4ZM1520.3,716.9L1525.8,706.9L1531.3,716.9ZM1527.5,712.6L1533.0,702.6L1538.5,712.6ZM1534.7,710.0L1540.2,700.0L1545.7,710.0ZM1541.9,710.9L1547.4,700.9L1552.9,710.9ZM1549.1,713.4L1554.6,703.4L1560.1,713.4ZM1556.3,716.0L1561.8,706.0L1567.3,716.0ZM1563.5,717.2L1569.0,707.2L1574.5,717.2ZM1570.7,718.6L1576.2,708.6L1581.7,718.6ZM1577.9,718.6L1583.4,708.6L1588.9,718.6ZM1585.0,717.7L1590.5,707.7L1596.0,717.7ZM1592.2,716.9L1597.7,706.9L1603.2,716.9ZM1599.4,716.0L1604.9,706.0L1610.4,716.0ZM1606.6,714.3L1612.1,704.3L1617.6,714.3Z"/>
</g></g>
<text class="t n" font-size="44.6" text-anchor="middle" y="1199.3"><tspan x="160.0">0</tspan><tspan x="175.9" font-size="54">.</tspan><tspan x="203.0">0</tspan></text>
<text class="t n" font-size="44.6" text-anchor="middle" y="1199.3"><tspan x="279.6">0</tspan><tspan x="295.5" font-size="54">.</tspan><tspan x="322.6">5</tspan></text>
<text class="t n" font-size="44.6" text-anchor="middle" y="1199.3"><tspan x="399.2">1</tspan><tspan x="415.1" font-size="54">.</tspan><tspan x="442.2">0</tspan></text>
<text class="t n" font-size="44.6" text-anchor="middle" y="1199.3"><tspan x="518.8">1</tspan><tspan x="534.7" font-size="54">.</tspan><tspan x="561.8">5</tspan></text>
<text class="t n" font-size="44.6" text-anchor="middle" y="1199.3"><tspan x="638.4">2</tspan><tspan x="654.3" font-size="54">.</tspan><tspan x="681.4">0</tspan></text>
<text class="t n" font-size="44.6" text-anchor="middle" y="1199.3"><tspan x="758.0">2</tspan><tspan x="773.9" font-size="54">.</tspan><tspan x="801.0">5</tspan></text>
<text class="t n" font-size="44.6" text-anchor="middle" y="1199.3"><tspan x="877.6">3</tspan><tspan x="893.5" font-size="54">.</tspan><tspan x="920.6">0</tspan></text>
<text class="t n" font-size="44.6" text-anchor="middle" y="1199.3"><tspan x="997.2">3</tspan><tspan x="1013.1" font-size="54">.</tspan><tspan x="1040.2">5</tspan></text>
<text class="t n" font-size="44.6" text-anchor="middle" y="1199.3"><tspan x="1116.8">4</tspan><tspan x="1132.7" font-size="54">.</tspan><tspan x="1159.8">0</tspan></text>
<text class="t n" font-size="44.6" text-anchor="middle" y="1199.3"><tspan x="1236.4">4</tspan><tspan x="1252.3" font-size="54">.</tspan><tspan x="1279.4">5</tspan></text>
<text class="t n" font-size="44.6" text-anchor="middle" y="1199.3"><tspan x="1356.0">5</tspan><tspan x="1371.9" font-size="54">.</tspan><tspan x="1399.0">0</tspan></text>
<text class="t n" font-size="44.6" text-anchor="middle" y="1199.3"><tspan x="1475.6">5</tspan><tspan x="1491.5" font-size="54">.</tspan><tspan x="1518.6">5</tspan></text>
<text class="t n" font-size="44.6" text-anchor="middle" y="1199.3"><tspan x="1595.2">6</tspan><tspan x="1611.1" font-size="54">.</tspan><tspan x="1638.2">0</tspan></text>
<text class="t n" font-size="44.6" text-anchor="middle" y="1144.8"><tspan x="92.7">0</tspan><tspan x="108.6" font-size="54">.</tspan><tspan x="135.7">0</tspan></text>
<text class="t n" font-size="44.6" text-anchor="middle" y="997.2"><tspan x="92.7">0</tspan><tspan x="108.6" font-size="54">.</tspan><tspan x="135.7">2</tspan></text>
<text class="t n" font-size="44.6" text-anchor="middle" y="849.6"><tspan x="92.7">0</tspan><tspan x="108.6" font-size="54">.</tspan><tspan x="135.7">4</tspan></text>
<text class="t n" font-size="44.6" text-anchor="middle" y="702.0"><tspan x="92.7">0</tspan><tspan x="108.6" font-size="54">.</tspan><tspan x="135.7">6</tspan></text>
<text class="t n" font-size="44.6" text-anchor="middle" y="554.4"><tspan x="92.7">0</tspan><tspan x="108.6" font-size="54">.</tspan><tspan x="135.7">8</tspan></text>
<text class="t n" font-size="44.6" text-anchor="middle" y="406.8"><tspan x="92.7">1</tspan><tspan x="108.6" font-size="54">.</tspan><tspan x="135.7">0</tspan></text>
<text class="t n" font-size="44.6" text-anchor="middle" y="259.2"><tspan x="92.7">1</tspan><tspan x="108.6" font-size="54">.</tspan><tspan x="135.7">2</tspan></text>
<text class="t n" font-size="44.6" text-anchor="middle" y="111.6"><tspan x="92.7">1</tspan><tspan x="108.6" font-size="54">.</tspan><tspan x="135.7">4</tspan></text>
<text class="t" font-size="54.3" y="1273.9"><tspan x="729.8">Distance</tspan><tspan x="920.9" y="1271.4" font-size="46">（</tspan><tspan x="972.2" y="1273.9">m</tspan><tspan x="1018.4" y="1271.4" font-size="46">）</tspan></text>
<text class="t" font-size="54" transform="translate(57.4,761) rotate(-90)"><tspan x="0">Velocity</tspan><tspan x="189.1" y="-2.5" font-size="46">（</tspan><tspan x="240.4" y="0">m</tspan><tspan x="284.5">/</tspan><tspan x="299.1">s</tspan><tspan x="324" y="-2.5" font-size="46">）</tspan></text>
<rect x="1333" y="20.5" width="283.5" height="208.2" fill="#fff" stroke="#000" stroke-width="2"/>
<path d="M1330,20.5H1619M1616.5,18V235" stroke="#000" stroke-width="5" fill="none"/>
<line x1="1339" y1="57.3" x2="1449" y2="57.3" stroke="#444" stroke-width="2.6"/>
<rect x="1390" y="53.2" width="8.2" height="8.4" fill="#4c4c4c"/>
<line x1="1339" y1="124" x2="1449" y2="124" stroke="#ee2b2b" stroke-width="2"/>
<circle cx="1393.6" cy="124.4" r="4.5" fill="#ef3e3e"/>
<line x1="1339" y1="191" x2="1449" y2="191" stroke="#0b5fd9" stroke-width="2"/>
<path d="M1388.1,194.9L1393.6,184.9L1399.1,194.9Z" fill="#1c6fe0"/>
<text class="t" font-size="55" x="1460" y="79.8">Mesh1</text>
<text class="t" font-size="55" x="1460" y="145">Mesh2</text>
<text class="t" font-size="55" x="1460" y="211">Mesh3</text>
</svg></body></html>
